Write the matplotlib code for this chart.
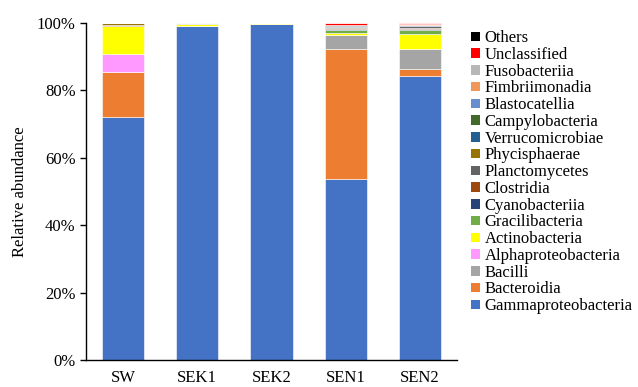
import numpy as np
import matplotlib.pyplot as plt
from matplotlib.patches import Patch
import matplotlib.ticker as ticker

plt.rcParams['font.family'] = ['Liberation Serif', 'DejaVu Serif']

samples = ["SW", "SEK1", "SEK2", "SEN1", "SEN2"]

# relative abundance (%) per class, stacked bottom to top
gammaproteobacteria = [72.0, 99.0, 99.6, 53.7, 84.4]
bacteroidia         = [13.5, 0.0, 0.0, 38.6, 2.0]
bacilli             = [0.0, 0.2, 0.1, 4.2, 5.9]
alphaproteobacteria = [5.2, 0.0, 0.0, 0.0, 0.0]
actinobacteria      = [8.5, 0.6, 0.2, 0.5, 4.5]
gracilibacteria     = [0.0, 0.0, 0.0, 0.9, 1.2]
cyanobacteriia      = [0.0, 0.0, 0.0, 0.4, 0.3]
clostridia          = [0.2, 0.0, 0.0, 0.2, 0.3]
planctomycetes      = [0.0, 0.0, 0.0, 0.4, 0.4]
phycisphaerae       = [0.5, 0.0, 0.0, 0.0, 0.1]
verrucomicrobiae    = [0.0, 0.0, 0.0, 0.2, 0.2]
campylobacteria     = [0.0, 0.0, 0.0, 0.3, 0.1]
blastocatellia      = [0.0, 0.0, 0.0, 0.0, 0.1]
fimbriimonadia      = [0.0, 0.0, 0.0, 0.0, 0.1]
fusobacteriia       = [0.0, 0.1, 0.0, 0.0, 0.1]
unclassified        = [0.0, 0.0, 0.0, 0.5, 0.2]
others              = [0.1, 0.1, 0.1, 0.1, 0.1]

series = [
    ("Gammaproteobacteria", gammaproteobacteria, "#4472C4"),
    ("Bacteroidia", bacteroidia, "#ED7D31"),
    ("Bacilli", bacilli, "#A5A5A5"),
    ("Alphaproteobacteria", alphaproteobacteria, "#FF99FF"),
    ("Actinobacteria", actinobacteria, "#FFFF00"),
    ("Gracilibacteria", gracilibacteria, "#70AD47"),
    ("Cyanobacteriia", cyanobacteriia, "#264478"),
    ("Clostridia", clostridia, "#9E480E"),
    ("Planctomycetes", planctomycetes, "#636363"),
    ("Phycisphaerae", phycisphaerae, "#997300"),
    ("Verrucomicrobiae", verrucomicrobiae, "#255E91"),
    ("Campylobacteria", campylobacteria, "#43682B"),
    ("Blastocatellia", blastocatellia, "#698ED0"),
    ("Fimbriimonadia", fimbriimonadia, "#F1975A"),
    ("Fusobacteriia", fusobacteriia, "#B7B7B7"),
    ("Unclassified", unclassified, "#FF0000"),
    ("Others", others, "#000000"),
]

fig = plt.figure(figsize=(6.38, 3.87), dpi=100)
ax = fig.add_axes([0.1348, 0.0698, 0.5815, 0.8708])

x = np.arange(len(samples))
bottom = np.zeros(len(samples))
for name, vals, color in series:
    vals = np.array(vals) / 100.0
    ax.bar(x, vals, width=0.57, bottom=bottom, color=color,
           edgecolor="white", linewidth=0.4)
    bottom += vals

ax.set_xlim(-0.5, len(samples) - 0.5)
ax.set_ylim(0, 1)
ax.set_xticks(x)
ax.set_xticklabels(samples, fontsize=12)
ax.set_yticks(np.arange(0, 1.01, 0.2))
ax.yaxis.set_major_formatter(ticker.FuncFormatter(lambda v, _: f"{v*100:.0f}%"))
ax.tick_params(axis="y", labelsize=12, length=4, width=1, direction="out")
ax.tick_params(axis="x", length=0, pad=7)
ax.set_ylabel("Relative abundance", fontsize=12, labelpad=6)

for side in ["top", "right"]:
    ax.spines[side].set_visible(False)
for side in ["left", "bottom"]:
    ax.spines[side].set_linewidth(1)

handles = [Patch(facecolor=c, edgecolor="none", label=n) for n, _, c in series][::-1]
fig.legend(handles=handles, loc="upper left", bbox_to_anchor=(0.739, 0.922),
           frameon=False, fontsize=12, handlelength=0.5, handleheight=0.5,
           handletextpad=0.3, labelspacing=0.045, borderaxespad=0, borderpad=0)

fig.savefig("out.png", dpi=100)
